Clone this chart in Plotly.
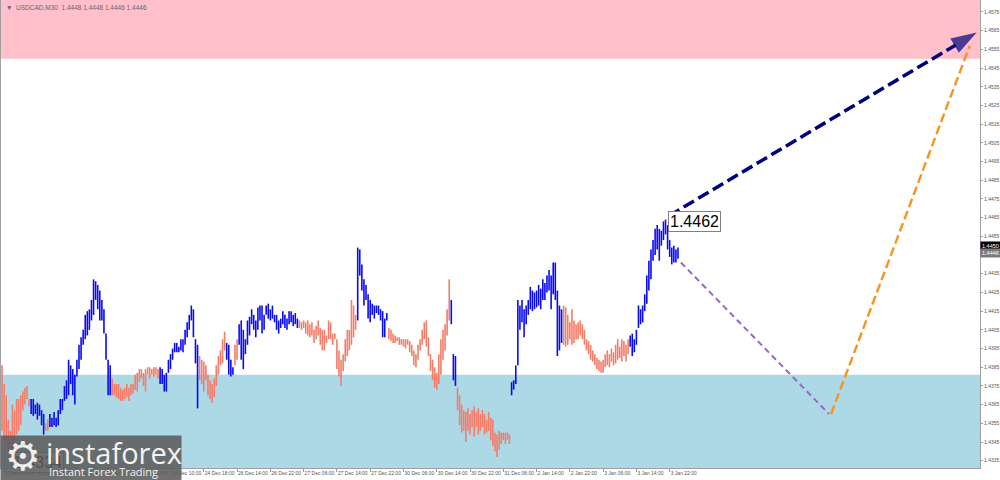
import plotly.graph_objects as go

# ---------------- data (USDCAD, M30) ----------------
highs = [
    1.4386, 1.4376, 1.4370, 1.4357, 1.4351, 1.4365, 1.4362, 1.4368, 1.4368, 1.4370,
    1.4372, 1.4374, 1.4375, 1.4368, 1.4368, 1.4368, 1.4365, 1.4366, 1.4365, 1.4362,
    1.4360, 1.4355, 1.4357, 1.4360, 1.4358, 1.4361, 1.4358, 1.4362, 1.4368, 1.4368,
    1.4375, 1.4378, 1.4389, 1.4386, 1.4384, 1.4381, 1.4389, 1.4397, 1.4401, 1.4405,
    1.4413, 1.4415, 1.4416, 1.4421, 1.4432, 1.4431, 1.4429, 1.4426, 1.4421, 1.4416,
    1.4403, 1.4389, 1.4386, 1.4379, 1.4376, 1.4376, 1.4376, 1.4374, 1.4373, 1.4374,
    1.4376, 1.4374, 1.4376, 1.4376, 1.4381, 1.4382, 1.4384, 1.4384, 1.4382, 1.4384,
    1.4385, 1.4385, 1.4384, 1.4385, 1.4385, 1.4384, 1.4385, 1.4384, 1.4381, 1.4382,
    1.4389, 1.4392, 1.4395, 1.4398, 1.4398, 1.4396, 1.4400, 1.4400, 1.4405, 1.4409,
    1.4413, 1.4418, 1.4416, 1.4400, 1.4397, 1.4391, 1.4389, 1.4388, 1.4386, 1.4381,
    1.4378, 1.4376, 1.4379, 1.4386, 1.4391, 1.4394, 1.4400, 1.4404, 1.4398, 1.4397,
    1.4389, 1.4385, 1.4397, 1.4400, 1.4408, 1.4410, 1.4405, 1.4400, 1.4410, 1.4412,
    1.4416, 1.4413, 1.4410, 1.4417, 1.4418, 1.4418, 1.4413, 1.4418, 1.4419, 1.4416,
    1.4418, 1.4413, 1.4413, 1.4410, 1.4411, 1.4415, 1.4413, 1.4411, 1.4415, 1.4415,
    1.4413, 1.4414, 1.4411, 1.4410, 1.4409, 1.4410, 1.4409, 1.4410, 1.4408, 1.4409,
    1.4405, 1.4407, 1.4410, 1.4406, 1.4405, 1.4405, 1.4402, 1.4410, 1.4409, 1.4403,
    1.4403, 1.4400, 1.4394, 1.4389, 1.4392, 1.4400, 1.4405, 1.4405, 1.4421, 1.4418,
    1.4413, 1.4449, 1.4448, 1.4440, 1.4432, 1.4429, 1.4424, 1.4421, 1.4419, 1.4418,
    1.4418, 1.4418, 1.4416, 1.4415, 1.4411, 1.4414, 1.4406, 1.4405, 1.4403, 1.4402,
    1.4401, 1.4401, 1.4400, 1.4400, 1.4400, 1.4400, 1.4399, 1.4397, 1.4394, 1.4392,
    1.4397, 1.4400, 1.4405, 1.4409, 1.4410, 1.4401, 1.4392, 1.4389, 1.4385, 1.4382,
    1.4392, 1.4400, 1.4405, 1.4408, 1.4416, 1.4432, 1.4421, 1.4392, 1.4391, 1.4374,
    1.4370, 1.4365, 1.4362, 1.4361, 1.4363, 1.4360, 1.4362, 1.4364, 1.4361, 1.4363,
    1.4360, 1.4362, 1.4360, 1.4357, 1.4361, 1.4358, 1.4357, 1.4350, 1.4349, 1.4351,
    1.4350, 1.4350, 1.4350, 1.4350, 1.4349, 1.4377, 1.4378, 1.4386, 1.4421, 1.4418,
    1.4421, 1.4416, 1.4418, 1.4421, 1.4428, 1.4426, 1.4425, 1.4426, 1.4429, 1.4427,
    1.4432, 1.4430, 1.4434, 1.4437, 1.4434, 1.4441, 1.4441, 1.4426, 1.4418, 1.4416,
    1.4418, 1.4417, 1.4413, 1.4409, 1.4416, 1.4410, 1.4408, 1.4409, 1.4410, 1.4408,
    1.4405, 1.4400, 1.4399, 1.4397, 1.4394, 1.4392, 1.4390, 1.4389, 1.4388, 1.4389,
    1.4392, 1.4394, 1.4392, 1.4395, 1.4393, 1.4397, 1.4400, 1.4396, 1.4400, 1.4399,
    1.4397, 1.4400, 1.4402, 1.4403, 1.4400, 1.4405, 1.4418, 1.4416, 1.4418, 1.4424,
    1.4434, 1.4442, 1.4448, 1.4453, 1.4459, 1.4461, 1.4459, 1.4458, 1.4463, 1.4464,
    1.4461, 1.4453, 1.4449, 1.4450, 1.4448, 1.4449,
]
lows = [
    1.4351, 1.4346, 1.4343, 1.4338, 1.4334, 1.4340, 1.4346, 1.4349, 1.4351, 1.4354,
    1.4362, 1.4365, 1.4368, 1.4364, 1.4360, 1.4359, 1.4360, 1.4357, 1.4359, 1.4354,
    1.4349, 1.4351, 1.4351, 1.4353, 1.4353, 1.4354, 1.4353, 1.4354, 1.4360, 1.4362,
    1.4367, 1.4368, 1.4370, 1.4376, 1.4370, 1.4365, 1.4380, 1.4384, 1.4389, 1.4397,
    1.4400, 1.4402, 1.4405, 1.4410, 1.4413, 1.4421, 1.4416, 1.4410, 1.4410, 1.4403,
    1.4389, 1.4370, 1.4370, 1.4370, 1.4370, 1.4369, 1.4368, 1.4367, 1.4367, 1.4368,
    1.4369, 1.4367, 1.4370, 1.4371, 1.4373, 1.4372, 1.4377, 1.4379, 1.4375, 1.4372,
    1.4381, 1.4379, 1.4381, 1.4380, 1.4381, 1.4379, 1.4376, 1.4376, 1.4372, 1.4372,
    1.4382, 1.4384, 1.4389, 1.4393, 1.4393, 1.4393, 1.4394, 1.4393, 1.4397, 1.4401,
    1.4405, 1.4410, 1.4401, 1.4387, 1.4363, 1.4378, 1.4376, 1.4372, 1.4378, 1.4370,
    1.4368, 1.4366, 1.4369, 1.4375, 1.4381, 1.4386, 1.4387, 1.4394, 1.4389, 1.4381,
    1.4380, 1.4381, 1.4386, 1.4389, 1.4397, 1.4389, 1.4384, 1.4392, 1.4397, 1.4402,
    1.4408, 1.4405, 1.4401, 1.4405, 1.4410, 1.4403, 1.4405, 1.4413, 1.4411, 1.4410,
    1.4411, 1.4409, 1.4405, 1.4403, 1.4406, 1.4408, 1.4406, 1.4405, 1.4408, 1.4409,
    1.4407, 1.4408, 1.4406, 1.4406, 1.4405, 1.4406, 1.4403, 1.4402, 1.4401, 1.4402,
    1.4398, 1.4400, 1.4402, 1.4397, 1.4394, 1.4394, 1.4398, 1.4400, 1.4400, 1.4397,
    1.4400, 1.4384, 1.4380, 1.4375, 1.4383, 1.4388, 1.4391, 1.4394, 1.4397, 1.4401,
    1.4405, 1.4410, 1.4434, 1.4426, 1.4418, 1.4421, 1.4411, 1.4409, 1.4413, 1.4411,
    1.4414, 1.4413, 1.4410, 1.4401, 1.4401, 1.4410, 1.4400, 1.4399, 1.4398, 1.4398,
    1.4399, 1.4397, 1.4397, 1.4396, 1.4395, 1.4397, 1.4393, 1.4391, 1.4386, 1.4385,
    1.4389, 1.4394, 1.4397, 1.4400, 1.4396, 1.4391, 1.4383, 1.4378, 1.4374, 1.4373,
    1.4376, 1.4381, 1.4389, 1.4394, 1.4402, 1.4410, 1.4408, 1.4378, 1.4375, 1.4362,
    1.4354, 1.4350, 1.4351, 1.4345, 1.4351, 1.4349, 1.4353, 1.4348, 1.4353, 1.4349,
    1.4351, 1.4353, 1.4349, 1.4350, 1.4351, 1.4346, 1.4343, 1.4340, 1.4337, 1.4341,
    1.4344, 1.4346, 1.4344, 1.4346, 1.4344, 1.4370, 1.4373, 1.4376, 1.4386, 1.4405,
    1.4409, 1.4401, 1.4408, 1.4413, 1.4416, 1.4415, 1.4416, 1.4417, 1.4418, 1.4416,
    1.4421, 1.4421, 1.4425, 1.4426, 1.4416, 1.4424, 1.4421, 1.4391, 1.4394, 1.4398,
    1.4397, 1.4396, 1.4397, 1.4400, 1.4397, 1.4398, 1.4400, 1.4400, 1.4402, 1.4400,
    1.4397, 1.4394, 1.4392, 1.4389, 1.4388, 1.4386, 1.4384, 1.4383, 1.4382, 1.4382,
    1.4385, 1.4386, 1.4385, 1.4388, 1.4386, 1.4387, 1.4389, 1.4390, 1.4388, 1.4391,
    1.4388, 1.4392, 1.4396, 1.4391, 1.4393, 1.4397, 1.4406, 1.4408, 1.4409, 1.4415,
    1.4419, 1.4426, 1.4432, 1.4442, 1.4445, 1.4448, 1.4442, 1.4450, 1.4453, 1.4456,
    1.4448, 1.4444, 1.4440, 1.4441, 1.4441, 1.4443,
]
# wave segments: first bar of each segment and its kind (B = impulse/blue, S = correction/salmon)
wave_start = [0, 14, 21, 23, 53, 76, 95, 108, 112, 114, 143, 171, 186, 216, 219, 245, 270, 302]
wave_kind = ["S", "B", "S", "B", "S", "B", "S", "B", "S", "B", "S", "B", "S", "B", "S", "B", "S", "B"]

# time axis labels (bar index -> label)
tick_bars = [1, 17, 33, 49, 65, 81, 97, 113, 129, 145, 161, 177, 193, 209, 225, 241, 257, 273, 289, 305, 321]
tick_text = ["20 Dec 2024", "23 Dec 02:00", "23 Dec 10:00", "23 Dec 18:00", "24 Dec 02:00",
             "24 Dec 10:00", "24 Dec 18:00", "26 Dec 14:00", "26 Dec 22:00", "27 Dec 06:00",
             "27 Dec 14:00", "27 Dec 22:00", "30 Dec 06:00", "30 Dec 14:00", "30 Dec 22:00",
             "31 Dec 06:00", "2 Jan 14:00", "2 Jan 22:00", "3 Jan 06:00", "3 Jan 14:00", "3 Jan 22:00"]

# zones
resistance_low = 1.4550
support_high = 1.4381
y_min, y_max = 1.43311, 1.45814
x_min, x_max = -0.5, 470.2

# forecast paths (bar index, price)
up_x, up_y = [320.7, 468.6], [1.4466, 1.4564]
down_x, down_y = [326.4, 397.6], [1.4441, 1.4360]
rebound_x, rebound_y = [398.6, 465.3], [1.4360, 1.4557]

wave_top_bar, wave_top_price, wave_top_text = 320.2, 1.4463, "1.4462"
wave_low_bar, wave_low_price, wave_low_text = 4.3, 1.4334, "1.4334"
bid_price, close_price = 1.4450, 1.4446
header = "▼  USDCAD,M30  1.4448 1.4448 1.4446 1.4446"

BLUE = "#0B0BF2"
SALMON = "#F47C68"

# ---------------- build bars ----------------
kind_per_bar = []
for j, s in enumerate(wave_start):
    e = wave_start[j + 1] if j + 1 < len(wave_start) else len(highs)
    kind_per_bar += [wave_kind[j]] * (e - s)

seg_x = {"B": [], "S": []}
seg_y = {"B": [], "S": []}
for i, (h, l) in enumerate(zip(highs, lows)):
    k = kind_per_bar[i]
    seg_x[k] += [i, i, None]
    seg_y[k] += [l, h, None]

fig = go.Figure()
fig.add_trace(go.Scatter(x=seg_x["S"], y=seg_y["S"], mode="lines",
                         line=dict(color=SALMON, width=1.6), hoverinfo="skip"))
fig.add_trace(go.Scatter(x=seg_x["B"], y=seg_y["B"], mode="lines",
                         line=dict(color=BLUE, width=1.6), hoverinfo="skip"))

# forecasts
fig.add_trace(go.Scatter(x=down_x, y=down_y, mode="lines",
                         line=dict(color="#9966CC", width=2, dash="6px,4px"), hoverinfo="skip"))
fig.add_trace(go.Scatter(x=rebound_x, y=rebound_y, mode="lines",
                         line=dict(color="#F7941D", width=2.4, dash="9px,4px"), hoverinfo="skip"))
fig.add_trace(go.Scatter(x=up_x, y=up_y, mode="lines+markers",
                         line=dict(color="#00007F", width=3.5, dash="12px,5px"),
                         marker=dict(symbol="arrow", size=[0, 27], angleref="previous",
                                     color="#00007F", line=dict(width=0)),
                         hoverinfo="skip"))

shapes = [
    dict(type="rect", xref="paper", yref="y", x0=0, x1=1, y0=resistance_low, y1=y_max,
         fillcolor="#FFC0CB", line=dict(width=0), layer="below"),
    dict(type="rect", xref="paper", yref="y", x0=0, x1=1, y0=y_min, y1=support_high,
         fillcolor="#ADD8E6", line=dict(width=0), layer="below"),
]

PW = 979.0   # plot width in px
PH = 468.0   # plot height in px

def px_x(p):
    return (p - 1) / PW

def px_y(p):
    return (PH - p) / PH

annotations = [
    dict(x=wave_top_bar, y=wave_top_price, xref="x", yref="y", text=wave_top_text,
         showarrow=False, xanchor="left", yanchor="middle",
         font=dict(family="Liberation Sans, Arial", size=16, color="#000"),
         bgcolor="#FFFFFF", bordercolor="#808080", borderwidth=1, borderpad=1),
    dict(x=wave_low_bar, y=wave_low_price, xref="x", yref="y", text=wave_low_text,
         showarrow=False, xanchor="left", yanchor="middle",
         font=dict(family="Liberation Sans, Arial", size=16, color="#000"),
         bgcolor="#FFFFFF", bordercolor="#808080", borderwidth=1, borderpad=1),
    dict(x=px_x(4), y=px_y(2), xref="paper", yref="paper", text=header,
         showarrow=False, xanchor="left", yanchor="top",
         font=dict(family="Liberation Sans", size=6.5, color="#666")),
    dict(x=1.0, y=bid_price, xref="paper", yref="y", text=f"{bid_price:.4f}",
         showarrow=False, xanchor="left", yanchor="middle",
         font=dict(family="Liberation Sans", size=5.5, color="#FFFFFF"),
         bgcolor="#000000", borderpad=1),
    dict(x=1.0, y=close_price, xref="paper", yref="y", text=f"{close_price:.4f}",
         showarrow=False, xanchor="left", yanchor="middle",
         font=dict(family="Liberation Sans", size=5.5, color="#FFFFFF"),
         bgcolor="#7A7A7A", borderpad=1),
    # logo
    dict(x=px_x(0), y=px_y(435), xref="paper", yref="paper", text=" ",
         showarrow=False, xanchor="left", yanchor="top", width=180, height=45,
         bgcolor="rgba(92,92,92,0.88)", borderpad=0),
    dict(x=px_x(23), y=px_y(456), xref="paper", yref="paper", text="⚙",
         showarrow=False, xanchor="center", yanchor="middle",
         font=dict(family="DejaVu Sans", size=40, color="#EDEDED")),
    dict(x=px_x(44), y=px_y(452), xref="paper", yref="paper", text="instaforex",
         showarrow=False, xanchor="left", yanchor="middle",
         font=dict(family="Open Sans", size=29, color="#F2F2F2")),
    dict(x=px_x(47), y=px_y(471), xref="paper", yref="paper", text="Instant Forex Trading",
         showarrow=False, xanchor="left", yanchor="middle",
         font=dict(family="Open Sans", size=11, color="#F2F2F2")),
]

fig.update_layout(
    width=1000, height=480, autosize=False,
    margin=dict(l=1, r=20, t=0, b=12, pad=0),
    paper_bgcolor="#FFFFFF", plot_bgcolor="#FFFFFF",
    showlegend=False,
    shapes=shapes, annotations=annotations,
    xaxis=dict(range=[x_min, x_max], tickmode="array", tickvals=tick_bars, ticktext=tick_text,
               ticks="outside", ticklen=3, tickcolor="#999", ticklabelposition="outside right",
               tickangle=0, automargin=False,
               tickfont=dict(family="Liberation Sans", size=5, color="#555"),
               showline=True, linecolor="#A0A0A0", linewidth=1,
               showgrid=False, zeroline=False, fixedrange=True),
    yaxis=dict(range=[y_min, y_max], side="right", tick0=1.4335, dtick=0.001, tickformat=".4f",
               ticks="outside", ticklen=2, tickcolor="#999", automargin=False,
               tickfont=dict(family="Liberation Sans", size=5, color="#555"),
               showline=True, linecolor="#A0A0A0", linewidth=1, mirror=True,
               showgrid=False, zeroline=False, fixedrange=True),
)

fig.write_html("out.html", config={"displayModeBar": False, "staticPlot": True},
               post_script="document.body.style.margin='0';document.body.style.overflow='hidden';")
